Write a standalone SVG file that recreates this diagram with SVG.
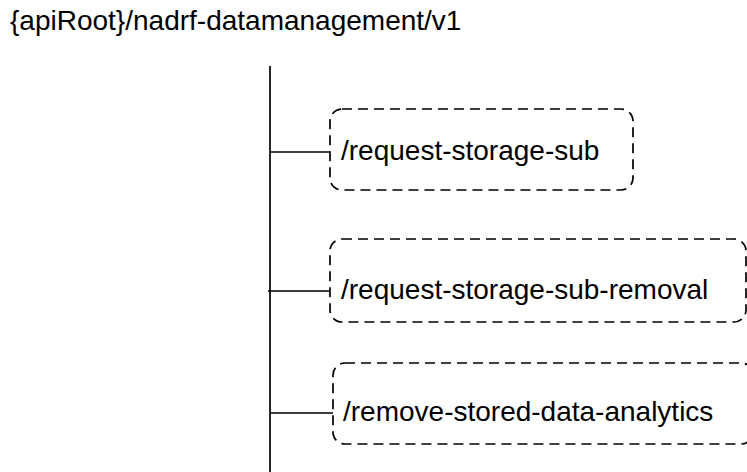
<svg xmlns="http://www.w3.org/2000/svg" width="747" height="472" viewBox="0 0 747 472">
<style>
text{font-family:"Liberation Sans",Arial,sans-serif;font-size:28px;fill:#000}
.box{fill:none;stroke:#000;stroke-width:1.7;stroke-dasharray:10,6}
.ln{stroke:#000;stroke-width:1.7;fill:none}
</style>
<rect width="747" height="472" fill="#fff"/>
<g id="root"><text x="10" y="30">{apiRoot}/nadrf-datamanagement/v1</text></g>
<g id="connectors">
<line class="ln" x1="270" y1="66" x2="270" y2="472"/>
<line class="ln" x1="270" y1="152" x2="330" y2="152"/>
<line class="ln" x1="268" y1="291" x2="330" y2="291"/>
<line class="ln" x1="270" y1="413" x2="333" y2="413"/>
</g>
<g id="n1"><rect class="box" x="330" y="109" width="303" height="81" rx="12"/><text x="341" y="160">/request-storage-sub</text></g>
<g id="n2"><rect class="box" x="330" y="239" width="416" height="83" rx="12"/><text x="341" y="299">/request-storage-sub-removal</text></g>
<g id="n3"><rect class="box" x="333" y="363" width="420" height="81" rx="12"/><text x="343" y="421">/remove-stored-data-analytics</text></g>
</svg>
